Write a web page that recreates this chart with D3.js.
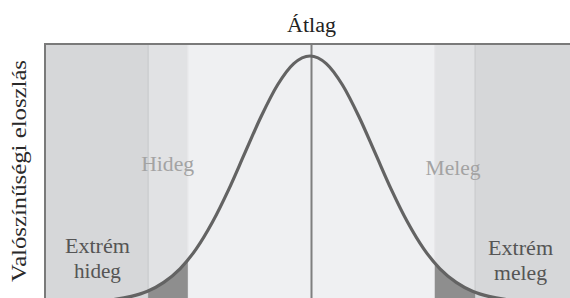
<!DOCTYPE html>
<html>
<head>
<meta charset="utf-8">
<script src="https://cdn.jsdelivr.net/npm/d3@7"></script>
<style>
  body { margin: 0; background: #fff; }
  svg { display: block; }
  text { font-family: "Liberation Serif", "Times New Roman", serif; }
</style>
</head>
<body>
<div id="chart"></div>
<script>
// zones along the temperature axis (in std-dev units from the mean)
var zones = [
  { name: "extremeCold", from: -4.2, to: -2.49, fill: "#d6d7d9" },
  { name: "cold",        from: -2.49, to: -1.88, fill: "#e1e2e4" },
  { name: "normal",      from: -1.88, to: 1.92,  fill: "#eff0f2" },
  { name: "warm",        from: 1.92,  to: 2.54,  fill: "#e1e2e4" },
  { name: "extremeWarm", from: 2.54,  to: 4.2,   fill: "#d6d7d9" }
]
// shaded tails under the curve
var tails = [[-2.49, -1.88], [1.92, 2.54]]

// curve (relative height, peak = 1)
var curveX = [-4, -3.75, -3.5, -3.25, -3, -2.75, -2.5, -2.25, -2, -1.75, -1.5, -1.25, -1, -0.75, -0.5, -0.25,
  0, 0.25, 0.5, 0.75, 1, 1.25, 1.5, 1.75, 2, 2.25, 2.5, 2.75, 3, 3.25, 3.5, 3.75, 4]
var curveY = [0, 0.001, 0.002, 0.005, 0.011, 0.023, 0.044, 0.08, 0.135, 0.216, 0.325, 0.458, 0.607, 0.755, 0.882, 0.969,
  1, 0.969, 0.882, 0.755, 0.607, 0.458, 0.325, 0.216, 0.135, 0.08, 0.044, 0.023, 0.011, 0.005, 0.002, 0.001, 0]

var labels = [
  { lines: ["Hideg"], widths: [53], at: -2.19, y: 171, color: "#a3a3a3" },
  { lines: ["Meleg"], widths: [55], at: 2.2, y: 175, color: "#a3a3a3" },
  { lines: ["Extrém", "hideg"], widths: [65, 47], at: -3.27, y: 253, color: "#555" },
  { lines: ["Extrém", "meleg"], widths: [65, 53], at: 3.24, y: 255, color: "#555" }
]
var title = "Átlag"
var yTitle = "Valószínűségi eloszlás"

var width = 570, height = 298
var plotLeft = 45, plotTop = 44, base = 302

var svg = d3.select("#chart").append("svg")
  .attr("width", width)
  .attr("height", height)

var x = d3.scaleLinear().domain([-4, 4]).range([50, 570])
var y = d3.scaleLinear().domain([0, 1]).range([base, 56])

svg.append("defs").append("clipPath").attr("id", "plotclip")
  .append("rect").attr("x", plotLeft).attr("y", plotTop)
  .attr("width", width + 10 - plotLeft).attr("height", height - plotTop + 10)
var plot = svg.append("g").attr("clip-path", "url(#plotclip)")

plot.selectAll("rect.zone").data(zones).enter().append("rect")
  .attr("class", "zone")
  .attr("x", function(d) { return x(d.from) })
  .attr("width", function(d) { return x(d.to) - x(d.from) })
  .attr("y", plotTop)
  .attr("height", height - plotTop + 10)
  .attr("fill", function(d) { return d.fill })

// zone dividers
var edges = [zones[1].from, zones[1].to, zones[3].from, zones[3].to]
plot.selectAll("line.edge").data(edges).enter().append("line")
  .attr("x1", function(d) { return x(d) }).attr("x2", function(d) { return x(d) })
  .attr("y1", plotTop).attr("y2", height + 5)
  .attr("stroke", function(d, i) { return (i == 0 || i == 3) ? "#c9cacc" : "#e6e7e9" })
  .attr("stroke-width", 1.2)

var pts = curveX.map(function(v, i) { return [v, curveY[i]] })

// dark tails under the curve
var interp = function(v) {
  for (var i = 1; i < pts.length; i++) {
    if (v <= pts[i][0]) {
      var t = (v - pts[i - 1][0]) / (pts[i][0] - pts[i - 1][0])
      return pts[i - 1][1] + t * (pts[i][1] - pts[i - 1][1])
    }
  }
  return 0
}
var area = d3.area()
  .x(function(d) { return x(d[0]) })
  .y0(base)
  .y1(function(d) { return y(d[1]) })
  .curve(d3.curveMonotoneX)
tails.forEach(function(tl) {
  var seg = pts.filter(function(p) { return p[0] > tl[0] && p[0] < tl[1] })
  seg.unshift([tl[0], interp(tl[0])])
  seg.push([tl[1], interp(tl[1])])
  plot.append("path")
    .attr("d", area(seg))
    .attr("fill", "#8e8e8e")
})

// mean line
plot.append("line")
  .attr("x1", x(0) + 1.5).attr("x2", x(0) + 1.5)
  .attr("y1", plotTop).attr("y2", height + 5)
  .attr("stroke", "#7f7f7f")
  .attr("stroke-width", 2)

var line = d3.line()
  .x(function(d) { return x(d[0]) })
  .y(function(d) { return y(d[1]) })
  .curve(d3.curveMonotoneX)
plot.append("path")
  .attr("d", line(pts))
  .attr("fill", "none")
  .attr("stroke", "#636363")
  .attr("stroke-width", 3.2)

// frame (top and left)
svg.append("path")
  .attr("d", "M" + plotLeft + "," + (height + 5) + "V" + plotTop + "H" + (width + 5))
  .attr("fill", "none")
  .attr("stroke", "#7a7a7a")
  .attr("stroke-width", 2)

labels.forEach(function(l) {
  l.lines.forEach(function(s, i) {
    svg.append("text")
      .attr("x", x(l.at)).attr("y", l.y + i * 25)
      .attr("text-anchor", "middle")
      .attr("fill", l.color)
      .attr("font-size", 20)
      .attr("textLength", l.widths[i])
      .attr("lengthAdjust", "spacingAndGlyphs")
      .text(s)
  })
})

svg.append("text")
  .attr("x", x(0) + 1.5).attr("y", 32)
  .attr("text-anchor", "middle")
  .attr("fill", "#222")
  .attr("font-size", 20)
  .attr("textLength", 49)
  .attr("lengthAdjust", "spacingAndGlyphs")
  .text(title)

svg.append("text")
  .attr("transform", "translate(26,171) rotate(-90)")
  .attr("text-anchor", "middle")
  .attr("fill", "#2a2a2a")
  .attr("font-size", 20)
  .attr("textLength", 222)
  .attr("lengthAdjust", "spacingAndGlyphs")
  .text(yTitle)
</script>
</body>
</html>
